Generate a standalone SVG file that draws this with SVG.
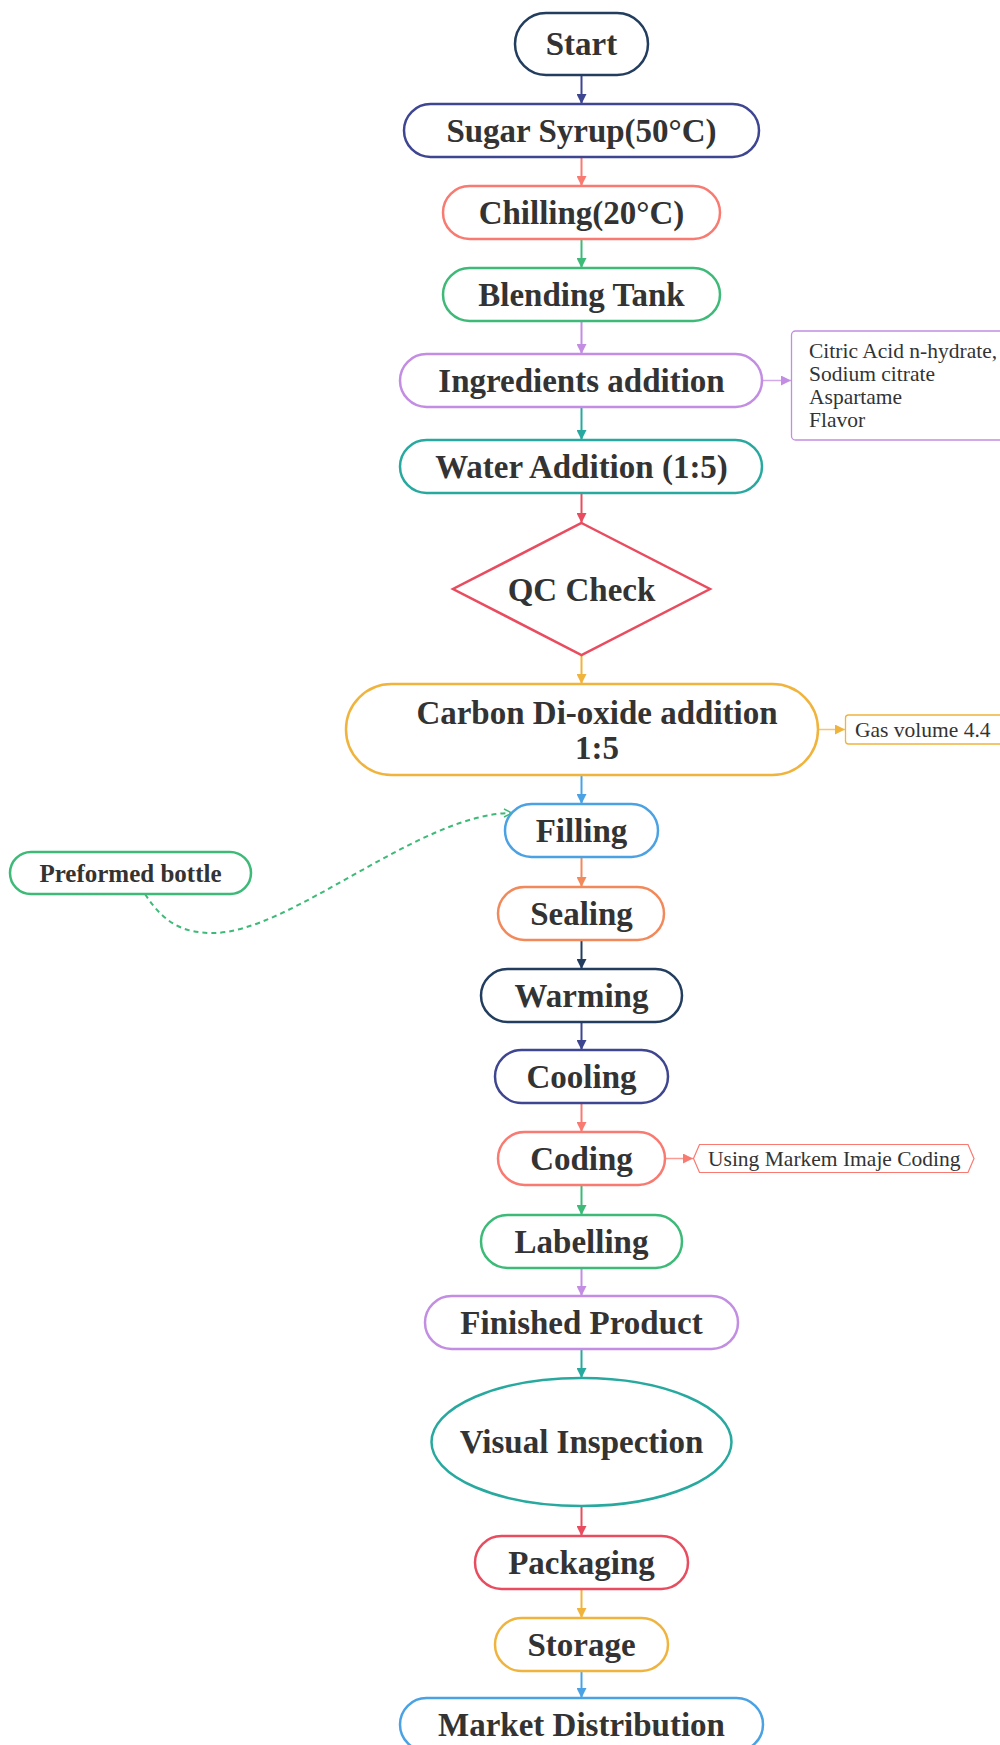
<svg xmlns="http://www.w3.org/2000/svg" width="1000" height="1745" viewBox="0 0 1000 1745">
  <style>
    .node { fill: #ffffff; stroke-width: 2.5; }
    .lbl { font-family: "Liberation Serif", "Times New Roman", serif; font-weight: bold; font-size: 33px; fill: #333333; text-anchor: middle; }
    .note { font-family: "Liberation Serif", "Times New Roman", serif; font-size: 21.5px; fill: #333333; }
    .link { fill: none; stroke-width: 2; }
    .side { fill: none; stroke-width: 1.5; stroke-opacity: 0.75; }
    .navy { stroke: #223d5e; }
    .indigo { stroke: #3e4591; }
    .salmon { stroke: #f87a70; }
    .green { stroke: #3dba77; }
    .lavender { stroke: #c28de2; }
    .teal { stroke: #28a99f; }
    .red { stroke: #e94c5f; }
    .yellow { stroke: #f0b43d; }
    .blue { stroke: #4aa2e4; }
    .orange { stroke: #f2895b; }
  </style>
  <defs>
    <marker id="ah-navy" viewBox="0 0 10 10" refX="10" refY="5" markerWidth="10" markerHeight="10" markerUnits="userSpaceOnUse" orient="auto"><path d="M0,0 L10,5 L0,10 z" fill="#223d5e"/></marker>
    <marker id="ah-indigo" viewBox="0 0 10 10" refX="10" refY="5" markerWidth="10" markerHeight="10" markerUnits="userSpaceOnUse" orient="auto"><path d="M0,0 L10,5 L0,10 z" fill="#3e4591"/></marker>
    <marker id="ah-salmon" viewBox="0 0 10 10" refX="10" refY="5" markerWidth="10" markerHeight="10" markerUnits="userSpaceOnUse" orient="auto"><path d="M0,0 L10,5 L0,10 z" fill="#f87a70"/></marker>
    <marker id="ah-green" viewBox="0 0 10 10" refX="10" refY="5" markerWidth="10" markerHeight="10" markerUnits="userSpaceOnUse" orient="auto"><path d="M0,0 L10,5 L0,10 z" fill="#3dba77"/></marker>
    <marker id="ah-lavender" viewBox="0 0 10 10" refX="10" refY="5" markerWidth="10" markerHeight="10" markerUnits="userSpaceOnUse" orient="auto"><path d="M0,0 L10,5 L0,10 z" fill="#c28de2"/></marker>
    <marker id="ah-teal" viewBox="0 0 10 10" refX="10" refY="5" markerWidth="10" markerHeight="10" markerUnits="userSpaceOnUse" orient="auto"><path d="M0,0 L10,5 L0,10 z" fill="#28a99f"/></marker>
    <marker id="ah-red" viewBox="0 0 10 10" refX="10" refY="5" markerWidth="10" markerHeight="10" markerUnits="userSpaceOnUse" orient="auto"><path d="M0,0 L10,5 L0,10 z" fill="#e94c5f"/></marker>
    <marker id="ah-yellow" viewBox="0 0 10 10" refX="10" refY="5" markerWidth="10" markerHeight="10" markerUnits="userSpaceOnUse" orient="auto"><path d="M0,0 L10,5 L0,10 z" fill="#f0b43d"/></marker>
    <marker id="ah-blue" viewBox="0 0 10 10" refX="10" refY="5" markerWidth="10" markerHeight="10" markerUnits="userSpaceOnUse" orient="auto"><path d="M0,0 L10,5 L0,10 z" fill="#4aa2e4"/></marker>
    <marker id="ah-orange" viewBox="0 0 10 10" refX="10" refY="5" markerWidth="10" markerHeight="10" markerUnits="userSpaceOnUse" orient="auto"><path d="M0,0 L10,5 L0,10 z" fill="#f2895b"/></marker>
    <marker id="ah-open-green" viewBox="0 0 10 10" refX="9" refY="5" markerWidth="10" markerHeight="10" markerUnits="userSpaceOnUse" orient="auto"><path d="M1,1 L9,5 L1,9" fill="none" stroke="#3dba77" stroke-width="1.4"/></marker>
  </defs>

  <!-- connectors -->
  <g id="connectors">
    <line class="link indigo" x1="581.5" y1="75" x2="581.5" y2="104" marker-end="url(#ah-indigo)"/>
    <line class="link salmon" x1="581.5" y1="157" x2="581.5" y2="186" marker-end="url(#ah-salmon)"/>
    <line class="link green" x1="581.5" y1="239" x2="581.5" y2="268" marker-end="url(#ah-green)"/>
    <line class="link lavender" x1="581.5" y1="321" x2="581.5" y2="354" marker-end="url(#ah-lavender)"/>
    <line class="side lavender" x1="762" y1="380.5" x2="791" y2="380.5" marker-end="url(#ah-lavender)"/>
    <line class="link teal" x1="581.5" y1="407" x2="581.5" y2="440" marker-end="url(#ah-teal)"/>
    <line class="link red" x1="581.5" y1="493" x2="581.5" y2="523" marker-end="url(#ah-red)"/>
    <line class="link yellow" x1="581.5" y1="655" x2="581.5" y2="684" marker-end="url(#ah-yellow)"/>
    <line class="side yellow" x1="818" y1="729.5" x2="845" y2="729.5" marker-end="url(#ah-yellow)"/>
    <line class="link blue" x1="581.5" y1="775" x2="581.5" y2="804" marker-end="url(#ah-blue)"/>
    <path class="link green" d="M145,894 C165,925 185,933 213,933 C290,933 420,813 512,813" stroke-width="1.6" stroke-dasharray="5,4" marker-end="url(#ah-open-green)"/>
    <line class="link orange" x1="581.5" y1="857" x2="581.5" y2="887" marker-end="url(#ah-orange)"/>
    <line class="link navy" x1="581.5" y1="940" x2="581.5" y2="969" marker-end="url(#ah-navy)"/>
    <line class="link indigo" x1="581.5" y1="1022" x2="581.5" y2="1050" marker-end="url(#ah-indigo)"/>
    <line class="link salmon" x1="581.5" y1="1103" x2="581.5" y2="1132" marker-end="url(#ah-salmon)"/>
    <line class="side salmon" x1="665" y1="1158.5" x2="693" y2="1158.5" marker-end="url(#ah-salmon)"/>
    <line class="link green" x1="581.5" y1="1185" x2="581.5" y2="1215" marker-end="url(#ah-green)"/>
    <line class="link lavender" x1="581.5" y1="1268" x2="581.5" y2="1296" marker-end="url(#ah-lavender)"/>
    <line class="link teal" x1="581.5" y1="1349" x2="581.5" y2="1378" marker-end="url(#ah-teal)"/>
    <line class="link red" x1="581.5" y1="1506" x2="581.5" y2="1536" marker-end="url(#ah-red)"/>
    <line class="link yellow" x1="581.5" y1="1589" x2="581.5" y2="1618" marker-end="url(#ah-yellow)"/>
    <line class="link blue" x1="581.5" y1="1671" x2="581.5" y2="1698" marker-end="url(#ah-blue)"/>
  </g>

  <!-- process steps -->
  <g id="start">
    <rect class="node navy" x="515" y="13" width="133" height="62" rx="31"/>
    <text class="lbl" x="581.5" y="55">Start</text>
  </g>
  <g id="sugar-syrup">
    <rect class="node indigo" x="404" y="104" width="355" height="53" rx="26.5"/>
    <text class="lbl" x="581.5" y="142">Sugar Syrup(50°C)</text>
  </g>
  <g id="chilling">
    <rect class="node salmon" x="443" y="186" width="277" height="53" rx="26.5"/>
    <text class="lbl" x="581.5" y="224">Chilling(20°C)</text>
  </g>
  <g id="blending-tank">
    <rect class="node green" x="443" y="268" width="277" height="53" rx="26.5"/>
    <text class="lbl" x="581.5" y="306">Blending Tank</text>
  </g>
  <g id="ingredients-addition">
    <rect class="node lavender" x="400" y="354" width="362" height="53" rx="26.5"/>
    <text class="lbl" x="581.5" y="392">Ingredients addition</text>
  </g>
  <g id="ingredients-note">
    <rect x="791.5" y="331" width="230" height="109" rx="4" fill="#ffffff" stroke="#c28de2" stroke-width="1.3"/>
    <text class="note" x="809" y="358">Citric Acid n-hydrate,</text>
    <text class="note" x="809" y="381">Sodium citrate</text>
    <text class="note" x="809" y="404">Aspartame</text>
    <text class="note" x="809" y="427">Flavor</text>
  </g>
  <g id="water-addition">
    <rect class="node teal" x="400" y="440" width="362" height="53" rx="26.5"/>
    <text class="lbl" x="581.5" y="478">Water Addition (1:5)</text>
  </g>
  <g id="qc-check">
    <polygon class="node red" points="581.5,523 710,589 581.5,655 453,589"/>
    <text class="lbl" x="581.5" y="600.5">QC Check</text>
  </g>
  <g id="co2-addition">
    <rect class="node yellow" x="346" y="684" width="472" height="91" rx="45.5"/>
    <text class="lbl" x="597" y="724">Carbon Di-oxide addition</text>
    <text class="lbl" x="597" y="759">1:5</text>
  </g>
  <g id="gas-note">
    <rect x="845.5" y="715" width="170" height="29" rx="3" fill="#ffffff" stroke="#f0b43d" stroke-width="1.3"/>
    <text class="note" x="855" y="737">Gas volume 4.4</text>
  </g>
  <g id="preformed-bottle">
    <rect class="node green" x="10" y="852" width="241" height="42" rx="21"/>
    <text class="lbl" x="130.5" y="882" style="font-size:25px">Preformed bottle</text>
  </g>
  <g id="filling">
    <rect class="node blue" x="505" y="804" width="153" height="53" rx="26.5"/>
    <text class="lbl" x="581.5" y="842">Filling</text>
  </g>
  <g id="sealing">
    <rect class="node orange" x="498" y="887" width="166" height="53" rx="26.5"/>
    <text class="lbl" x="581.5" y="925">Sealing</text>
  </g>
  <g id="warming">
    <rect class="node navy" x="481" y="969" width="201" height="53" rx="26.5"/>
    <text class="lbl" x="581.5" y="1007">Warming</text>
  </g>
  <g id="cooling">
    <rect class="node indigo" x="495" y="1050" width="173" height="53" rx="26.5"/>
    <text class="lbl" x="581.5" y="1088">Cooling</text>
  </g>
  <g id="coding">
    <rect class="node salmon" x="498" y="1132" width="167" height="53" rx="26.5"/>
    <text class="lbl" x="581.5" y="1170">Coding</text>
  </g>
  <g id="coding-note">
    <polygon points="693.5,1158.5 699.5,1144.5 968,1144.5 974,1158.5 968,1172.5 699.5,1172.5" fill="#ffffff" stroke="#f87a70" stroke-width="1.2"/>
    <text class="note" x="708" y="1165.5">Using Markem Imaje Coding</text>
  </g>
  <g id="labelling">
    <rect class="node green" x="481" y="1215" width="201" height="53" rx="26.5"/>
    <text class="lbl" x="581.5" y="1253">Labelling</text>
  </g>
  <g id="finished-product">
    <rect class="node lavender" x="425" y="1296" width="313" height="53" rx="26.5"/>
    <text class="lbl" x="581.5" y="1334">Finished Product</text>
  </g>
  <g id="visual-inspection">
    <ellipse class="node teal" cx="581.5" cy="1442" rx="150" ry="64"/>
    <text class="lbl" x="581.5" y="1453">Visual Inspection</text>
  </g>
  <g id="packaging">
    <rect class="node red" x="475" y="1536" width="213" height="53" rx="26.5"/>
    <text class="lbl" x="581.5" y="1574">Packaging</text>
  </g>
  <g id="storage">
    <rect class="node yellow" x="495" y="1618" width="173" height="53" rx="26.5"/>
    <text class="lbl" x="581.5" y="1656">Storage</text>
  </g>
  <g id="market-distribution">
    <rect class="node blue" x="400" y="1698" width="363" height="53" rx="26.5"/>
    <text class="lbl" x="581.5" y="1736">Market Distribution</text>
  </g>
</svg>
